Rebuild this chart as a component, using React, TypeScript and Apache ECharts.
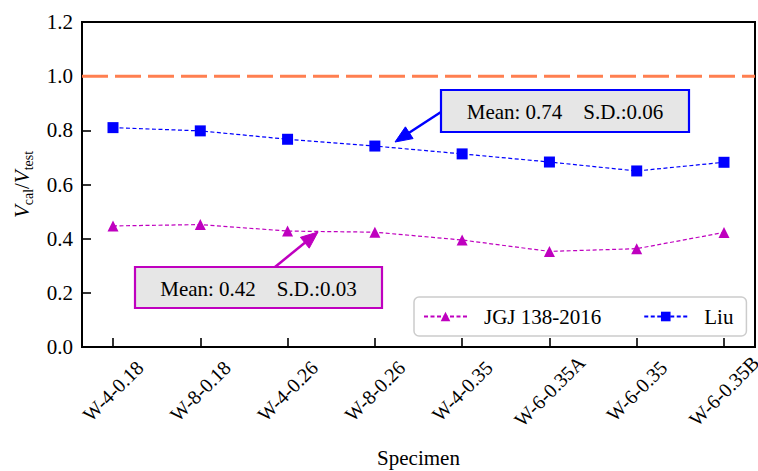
import React, { useEffect, useRef } from 'react';
import * as echarts from 'echarts';

// Specimens along the x axis
const specimens = [
  'W-4-0.18',
  'W-8-0.18',
  'W-4-0.26',
  'W-8-0.26',
  'W-4-0.35',
  'W-6-0.35A',
  'W-6-0.35',
  'W-6-0.35B',
];

// V_cal / V_test for each method
const jgjRatios = [0.447, 0.452, 0.428, 0.424, 0.395, 0.353, 0.363, 0.423];
const liuRatios = [0.81, 0.798, 0.767, 0.742, 0.713, 0.683, 0.65, 0.682];

// Perfect-prediction reference
const referenceRatio = 1.0;

// Summary statistics shown in the callouts
const seriesNames = ['JGJ 138-2016', 'Liu'];
const meanLabels = ['0.42', '0.74'];
const sdLabels = ['0.03', '0.06'];

const FONT = 'Liberation Serif';
const MAGENTA = '#bf00bf';
const BLUE = '#0000ff';

function arrow(x1: number, y1: number, x2: number, y2: number, color: string) {
  const dx = x2 - x1;
  const dy = y2 - y1;
  const len = Math.sqrt(dx * dx + dy * dy);
  const ux = dx / len;
  const uy = dy / len;
  const headLen = 17;
  const headHalf = 7;
  const bx = x2 - ux * headLen;
  const by = y2 - uy * headLen;
  const px = -uy;
  const py = ux;
  return [
    {
      type: 'line',
      z: 100,
      shape: { x1, y1, x2: bx + ux * 2, y2: by + uy * 2 },
      style: { stroke: color, lineWidth: 2.5 },
    },
    {
      type: 'polygon',
      z: 100,
      shape: {
        points: [
          [x2, y2],
          [bx + px * headHalf, by + py * headHalf],
          [bx - px * headHalf, by - py * headHalf],
        ],
      },
      style: { fill: color, stroke: color, lineWidth: 1 },
    },
  ];
}

function callout(x: number, y: number, w: number, h: number, color: string, idx: number) {
  return [
    {
      type: 'rect',
      z: 100,
      shape: { x, y, width: w, height: h },
      style: { fill: '#e6e6e6', stroke: color, lineWidth: 2.2 },
    },
    {
      type: 'text',
      z: 101,
      x: x + w / 2,
      y: y + h / 2 + 1,
      style: {
        text: `Mean: ${meanLabels[idx]}\u2003S.D.:${sdLabels[idx]}`,
        fontFamily: FONT,
        fontSize: 21,
        fill: '#000',
        align: 'center',
        verticalAlign: 'middle',
      },
    },
  ];
}

export default function App() {
  const ref = useRef<HTMLDivElement>(null);

  useEffect(() => {
    document.body.style.margin = '0';
    if (!ref.current) return;
    const chart = echarts.init(ref.current, null, { renderer: 'svg' });

    const lineCommon = {
      type: 'line',
      xAxisIndex: 1,
      yAxisIndex: 1,
      symbolSize: 11,
      z: 5,
    };

    chart.setOption({
      animation: false,
      backgroundColor: '#fff',
      textStyle: { fontFamily: FONT },
      grid: [
        {
          left: 82,
          right: 3,
          top: 22,
          bottom: 124,
          outerBoundsMode: 'none',
          containLabel: false,
          show: true,
          borderColor: '#000',
          borderWidth: 2,
          backgroundColor: 'transparent',
        },
        {
          left: 113,
          right: 34,
          top: 22,
          bottom: 124,
          outerBoundsMode: 'none',
          containLabel: false,
        },
      ],
      xAxis: [
        { gridIndex: 0, type: 'value', min: 0, max: 1, show: false },
        {
          gridIndex: 1,
          type: 'category',
          data: specimens,
          boundaryGap: false,
          axisLine: { show: false },
          axisTick: { show: true, inside: true, length: 9, lineStyle: { color: '#000', width: 1.6 } },
          axisLabel: {
            rotate: 45,
            align: 'center',
            verticalAlign: 'middle',
            margin: 44,
            fontFamily: FONT,
            fontSize: 20,
            color: '#000',
            interval: 0,
          },
          splitLine: { show: false },
          name: 'Specimen',
          nameLocation: 'middle',
          nameGap: 100,
          nameTextStyle: { fontFamily: FONT, fontSize: 21, color: '#000' },
        },
      ],
      yAxis: [
        {
          gridIndex: 0,
          type: 'value',
          min: 0,
          max: 1.2,
          interval: 0.2,
          axisLine: { show: true, lineStyle: { color: '#000', width: 2 } },
          axisTick: { show: true, inside: true, length: 9, lineStyle: { color: '#000', width: 1.6 } },
          axisLabel: {
            margin: 9,
            fontFamily: FONT,
            fontSize: 21,
            color: '#000',
            formatter: (v: number) => v.toFixed(1),
          },
          splitLine: { show: false },
          name: '{v|V}{s|cal}{n|/}{v|V}{s|test}',
          nameLocation: 'middle',
          nameRotate: 90,
          nameGap: 35,
          nameTextStyle: {
            color: '#000',
            fontFamily: FONT,
            rich: {
              v: { fontFamily: FONT, fontSize: 21, fontStyle: 'italic', color: '#000', verticalAlign: 'bottom', padding: [0, 0, 3, 0] },
              n: { fontFamily: FONT, fontSize: 21, color: '#000', verticalAlign: 'bottom', padding: [0, 0, 3, 0] },
              s: { fontFamily: FONT, fontSize: 14, color: '#000', verticalAlign: 'bottom' },
            },
          },
        },
        { gridIndex: 1, type: 'value', min: 0, max: 1.2, show: false },
      ],
      legend: {
        data: seriesNames,
        left: 414,
        top: 297,
        orient: 'horizontal',
        itemWidth: 43,
        itemHeight: 12,
        itemGap: 42,
        padding: [9, 13, 9, 9],
        borderColor: '#cccccc',
        borderWidth: 1.5,
        borderRadius: 5,
        backgroundColor: 'rgba(255,255,255,0.85)',
        textStyle: { fontFamily: FONT, fontSize: 21, color: '#000', padding: [0, 0, 0, 12] },
        z: 50,
      },
      series: [
        {
          name: 'reference',
          type: 'line',
          xAxisIndex: 0,
          yAxisIndex: 0,
          data: [
            [0, referenceRatio],
            [1, referenceRatio],
          ],
          symbol: 'none',
          silent: true,
          lineStyle: { color: '#ff7f50', width: 3, type: [26, 7] },
          z: 2,
        },
        {
          ...lineCommon,
          name: seriesNames[0],
          data: jgjRatios,
          symbol: 'triangle',
          itemStyle: { color: MAGENTA },
          lineStyle: { color: MAGENTA, width: 1.2, type: [4, 2.5] },
        },
        {
          ...lineCommon,
          name: seriesNames[1],
          data: liuRatios,
          symbol: 'rect',
          itemStyle: { color: BLUE },
          lineStyle: { color: BLUE, width: 1.2, type: [4, 2.5] },
        },
      ],
      graphic: [
        ...arrow(275, 267, 318, 232, MAGENTA),
        ...callout(135, 267, 247, 41, MAGENTA, 0),
        ...arrow(441, 112, 395, 142, BLUE),
        ...callout(441, 90, 248, 42, BLUE, 1),
      ],
    });

    return () => chart.dispose();
  }, []);

  return <div ref={ref} style={{ width: 758, height: 471 }} />;
}
